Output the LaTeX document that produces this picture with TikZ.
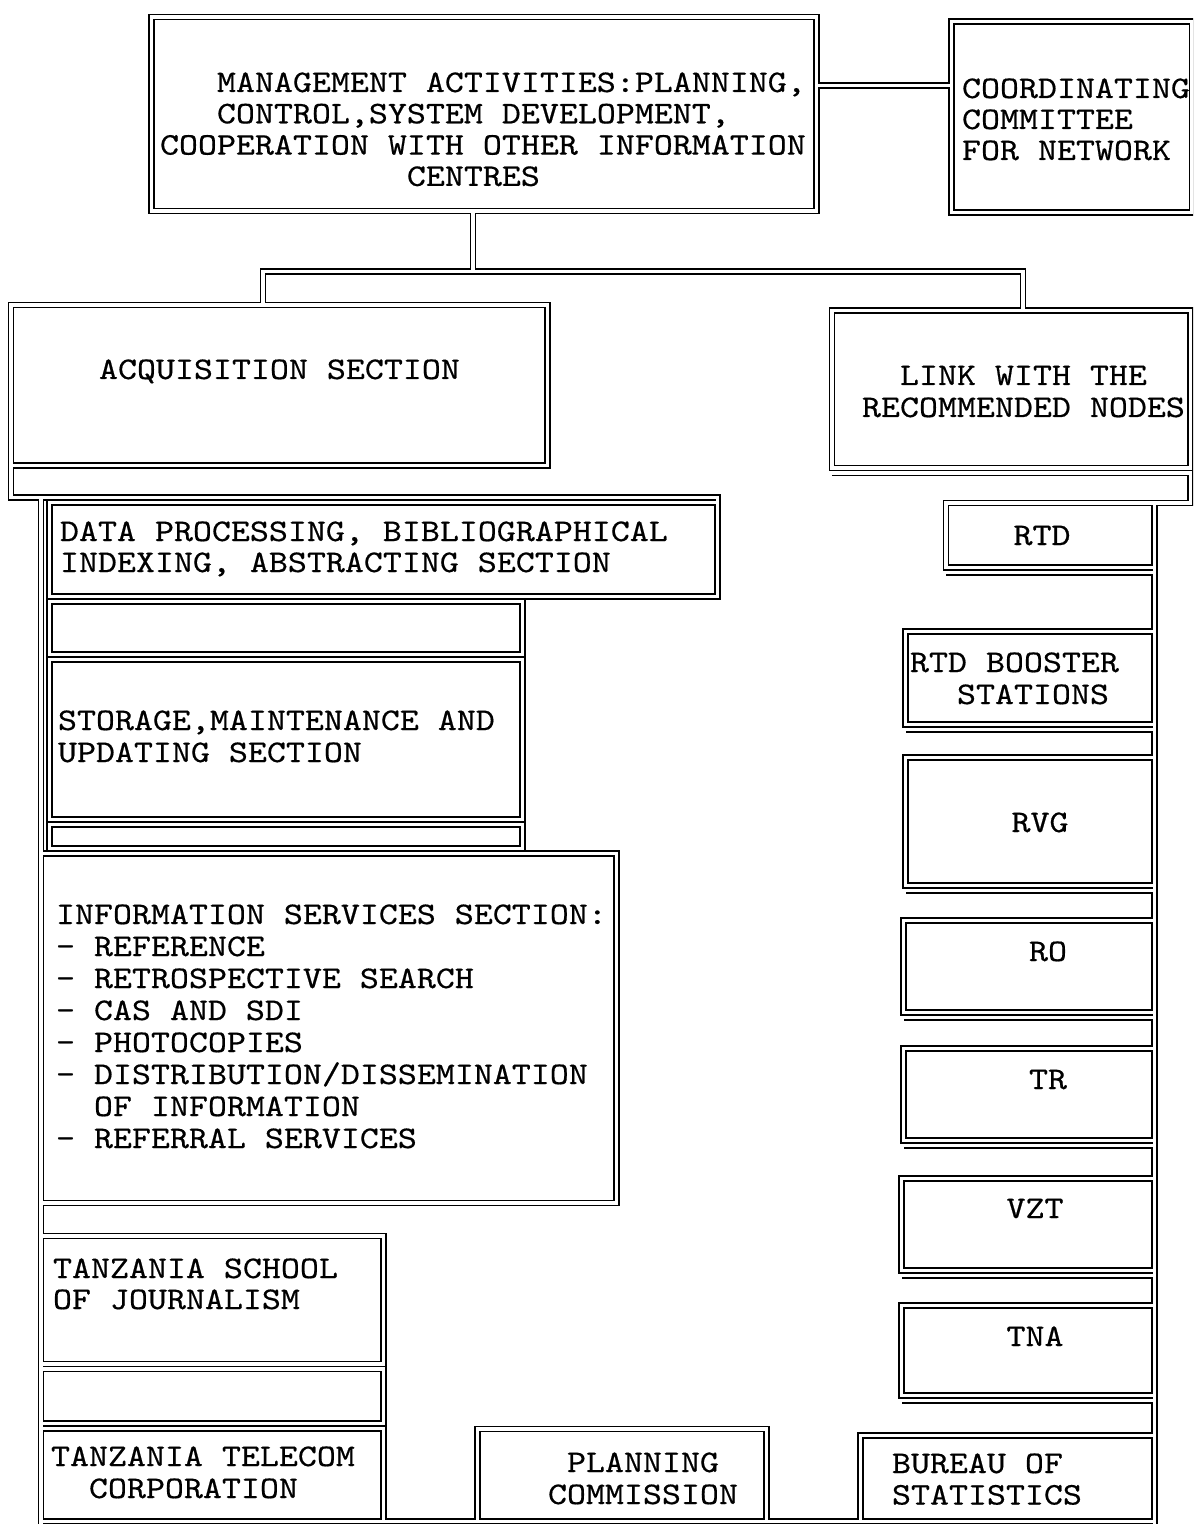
\documentclass[tikz,border=0pt]{standalone}
\usepackage{fontspec}
\newfontfamily\monof{lmmono10-regular.otf}[FakeStretch=1.15, FakeBold=0.5]
\newcommand\boxfont{\monof\fontsize{15.73pt}{15.7pt}\selectfont}
\newcommand\tline[1]{\hbox{#1}}
\newcommand\tstack[2][15.7pt]{\vtop{\baselineskip=#1\relax\lineskiplimit=-100pt #2}}
\newcommand\defbox[5]{\coordinate (#1-nw) at (#2,#3); \coordinate (#1-se) at (#4,#5);}
\tikzset{
  pipe/.style={draw=black, line width=0.6pt, double=white, double distance=1.9pt, line join=miter},
  lbl/.style={inner sep=0pt, outer sep=0pt, anchor=base west, font=\boxfont},
  clbl/.style={inner sep=0pt, outer sep=0pt, anchor=base, font=\boxfont}
}
\begin{document}
\begin{tikzpicture}[x=0.5pt,y=-0.5pt]
\fill[white] (0,0) rectangle (1193,1524);
\useasboundingbox (0,0) rectangle (1193,1524);
\clip (0,0) rectangle (1193,1524);

% box corners (centre lines of the double frames)
\defbox{mg}{151.5}{17}{816.5}{211}
\defbox{co}{951.5}{21.5}{1192}{212.5}
\defbox{acq}{11}{305}{547.5}{465.5}
\defbox{lnk}{832}{310.5}{1190.5}{468}
\defbox{dp}{49.5}{502.5}{717.5}{596.5}
\defbox{gA}{49.5}{601.5}{522.5}{654.5}
\defbox{st}{49.5}{659.5}{522.5}{819.5}
\defbox{gB}{49.5}{824.5}{522.5}{848.5}
\defbox{inf}{41}{853.5}{616.5}{1203}
\defbox{tsj}{41}{1236}{383.5}{1364}
\defbox{gC}{41}{1369}{383.5}{1423.5}
\defbox{tel}{41}{1428.5}{383.5}{1521.5}
\defbox{pla}{477.5}{1429}{766.5}{1521.5}
\defbox{bur}{860.5}{1435.5}{1154.5}{1521.5}
\defbox{rtd}{946}{503}{1154.5}{567.5}
\defbox{bst}{905.5}{631.5}{1154.5}{724.5}
\defbox{rvg}{905.5}{757.5}{1154.5}{885.5}
\defbox{ro}{903.5}{920.5}{1154.5}{1012.5}
\defbox{tr}{903.5}{1048.5}{1154.5}{1140.5}
\defbox{vzt}{901.5}{1178.5}{1154.5}{1270.5}
\defbox{tna}{901.5}{1305.5}{1154.5}{1395.5}

% junction points
\coordinate (j1) at (816.5,85.5);
\coordinate (j2) at (951.5,85.5);
\coordinate (j3) at (473,211);
\coordinate (j4) at (473,271.5);
\coordinate (j5) at (263,271.5);
\coordinate (j6) at (1023,271.5);
\coordinate (j7) at (263,305);
\coordinate (j8) at (1023,310.5);
\coordinate (l0) at (11,465.5);
\coordinate (l1) at (11,497.5);
\coordinate (l2) at (717.5,497.5);
\coordinate (l3) at (717.5,502.5);
\coordinate (ls) at (41,497.5);
\coordinate (le) at (41,1540);
\coordinate (b0) at (383.5,1521.5);
\coordinate (b1) at (1154.5,1521.5);
\coordinate (r0) at (832,473);
\coordinate (r1) at (1190.5,473);
\coordinate (r2) at (1190.5,503);
\coordinate (r3) at (946,503);
\coordinate (rs) at (1154.5,503);
\coordinate (re) at (1154.5,1540);

\draw[pipe]
  (mg-nw) rectangle (mg-se)
  (co-nw) rectangle (co-se)
  (j1) -- (j2)
  (j3) -- (j4)
  (j7) -- (j5) -- (j6) -- (j8)
  (acq-nw) rectangle (acq-se)
  (lnk-nw) rectangle (lnk-se)
  (l0) -- (l1) -- (l2) -- (l3)
  (ls) -- (le)
  (dp-nw) rectangle (dp-se)
  (gA-nw) rectangle (gA-se)
  (st-nw) rectangle (st-se)
  (gB-nw) rectangle (gB-se)
  (inf-nw) rectangle (inf-se)
  (tsj-nw) rectangle (tsj-se)
  (gC-nw) rectangle (gC-se)
  (tel-nw) rectangle (tel-se)
  (b0) -- (b1)
  (pla-nw) rectangle (pla-se)
  (bur-nw) rectangle (bur-se)
  (r0) -- (r1) -- (r2) -- (r3)
  (rs) -- (re)
  (rtd-nw) rectangle (rtd-se)
  (946,572.5) -- (1154.5,572.5)
  (bst-nw) rectangle (bst-se)
  (905.5,729.5) -- (1154.5,729.5)
  (rvg-nw) rectangle (rvg-se)
  (905.5,890.5) -- (1154.5,890.5)
  (ro-nw) rectangle (ro-se)
  (903.5,1017.5) -- (1154.5,1017.5)
  (tr-nw) rectangle (tr-se)
  (903.5,1145.5) -- (1154.5,1145.5)
  (vzt-nw) rectangle (vzt-se)
  (901.5,1275.5) -- (1154.5,1275.5)
  (tna-nw) rectangle (tna-se)
  (901.5,1400.5) -- (1154.5,1400.5);

% texts
\node[lbl] (tmg) at (160,92) {\tstack[15.65pt]{%
  \tline{\hphantom{XXX}MANAGEMENT ACTIVITIES:PLANNING,}%
  \tline{\hphantom{XXX}CONTROL,SYSTEM DEVELOPMENT,}%
  \tline{COOPERATION WITH OTHER INFORMATION}%
  \tline{\hphantom{XXXXXXXXXXXXX}CENTRES}}};
\node[lbl] (tco) at (962,98) {\tstack[15.5pt]{%
  \tline{COORDINATING}\tline{COMMITTEE}\tline{FOR NETWORK}}};
\node[lbl] (tacq) at (99,379) {ACQUISITION SECTION};
\node[lbl] (tlnk) at (862,385) {\tstack[16pt]{%
  \tline{\hphantom{XX}LINK WITH THE}\tline{RECOMMENDED NODES}}};
\node[lbl] (tdp) at (60,541) {\tstack[15.5pt]{%
  \tline{DATA PROCESSING, BIBLIOGRAPHICAL}%
  \tline{INDEXING, ABSTRACTING SECTION}}};
\node[lbl] (tst) at (58,730) {\tstack[16pt]{%
  \tline{STORAGE,MAINTENANCE AND}\tline{UPDATING SECTION}}};
\node[lbl] (tinf) at (56,924) {\tstack[16pt]{%
  \tline{INFORMATION SERVICES SECTION:}%
  \tline{- REFERENCE}%
  \tline{- RETROSPECTIVE SEARCH}%
  \tline{- CAS AND SDI}%
  \tline{- PHOTOCOPIES}%
  \tline{- DISTRIBUTION/DISSEMINATION}%
  \tline{\hphantom{XX}OF INFORMATION}%
  \tline{- REFERRAL SERVICES}}};
\node[lbl] (ttsj) at (53,1278) {\tstack[15.5pt]{%
  \tline{TANZANIA SCHOOL}\tline{OF JOURNALISM}}};
\node[lbl] (ttel) at (51,1466) {\tstack[16pt]{%
  \tline{TANZANIA TELECOM}\tline{\hphantom{XX}CORPORATION}}};
\node[lbl] (tpla) at (548,1472) {\tstack[16pt]{%
  \tline{\hphantom{X}PLANNING}\tline{COMMISSION}}};
\node[lbl] (tbur) at (892,1473) {\tstack[15.75pt]{%
  \tline{BUREAU OF}\tline{STATISTICS}}};
\node[clbl] (trtd) at (1042,545) {RTD};
\node[lbl] (tbst) at (910,672) {\tstack[16pt]{%
  \tline{RTD BOOSTER}\tline{\hspace{23.5pt}STATIONS}}};
\node[clbl] (trvg) at (1040,832) {RVG};
\node[clbl] (tro) at (1048,961) {RO};
\node[clbl] (ttr) at (1048,1089) {TR};
\node[clbl] (tvzt) at (1035,1218) {VZT};
\node[clbl] (ttna) at (1035,1346) {TNA};
\end{tikzpicture}
\end{document}
